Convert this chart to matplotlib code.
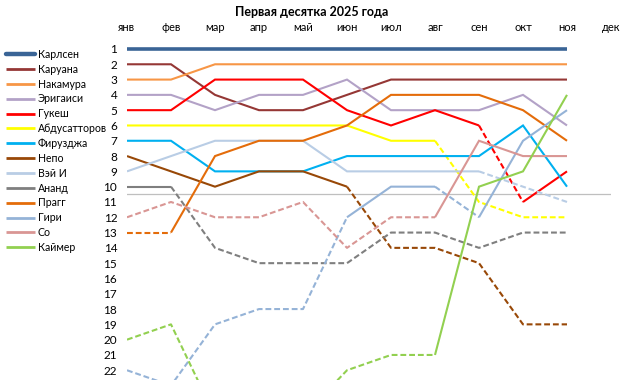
import numpy as np
import matplotlib
matplotlib.use("Agg")
import matplotlib.pyplot as plt
from matplotlib.lines import Line2D

plt.rcParams['font.family'] = ['Lato', 'DejaVu Sans']

# месяцы
months = ['янв', 'фев', 'мар', 'апр', 'май', 'июн', 'июл', 'авг', 'сен', 'окт', 'ноя', 'дек']
ranks = list(range(1, 23))

# места в рейтинге по месяцам (None = нет данных)
players = ['Карлсен', 'Каруана', 'Накамура', 'Эригаиси', 'Гукеш', 'Абдусатторов',
           'Фирузджа', 'Непо', 'Вэй И', 'Ананд', 'Прагг', 'Гири', 'Со', 'Каймер']
carlsen = [1, 1, 1, 1, 1, 1, 1, 1, 1, 1, 1]
caruana = [2, 2, 4, 5, 5, 4, 3, 3, 3, 3, 3]
nakamura = [3, 3, 2, 2, 2, 2, 2, 2, 2, 2, 2]
erigaisi = [4, 4, 5, 4, 4, 3, 5, 5, 5, 4, 6]
gukesh = [5, 5, 3, 3, 3, 5, 6, 5, 6, 11, 9]
abdusattorov = [6, 6, 6, 6, 6, 6, 7, 7, 11, 12, 12]
firouzja = [7, 7, 9, 9, 9, 8, 8, 8, 8, 6, 10]
nepo = [8, 9, 10, 9, 9, 10, 14, 14, 15, 19, 19]
wei_yi = [9, 8, 7, 7, 7, 9, 9, 9, 9, None, 11]
anand = [10, 10, 14, 15, 15, 15, 13, 13, 14, 13, 13]
pragg = [13, 13, 8, 7, 7, 6, 4, 4, 4, 5, 7]
giri = [22, 23, 19, 18, 18, 12, 10, 10, 12, 7, 5]
so = [12, 11, 12, 12, 11, 14, 12, 12, 7, 8, 8]
keymer = [20, 19, 25, 25, 25, 22, 21, 21, 10, 9, 4]

series = [carlsen, caruana, nakamura, erigaisi, gukesh, abdusattorov,
          firouzja, nepo, wei_yi, anand, pragg, giri, so, keymer]
colors = ['#3A6496', '#953735', '#F79646', '#B3A2C7', '#FF0000', '#FFFF00',
          '#00B0F0', '#984807', '#B9CDE5', '#7F7F7F', '#E46C0A', '#95B3D7',
          '#D99694', '#92D050']

DASH = (0, (2.8, 1.4))


def draw_player(ax, vals, color, lw):
    # стиль отрезка берётся по конечной точке: в десятке - сплошная, иначе пунктир
    pts = [(i, v) for i, v in enumerate(vals) if v is not None]
    runs = []
    for (x0, y0), (x1, y1) in zip(pts[:-1], pts[1:]):
        dashed = y1 > 10
        if runs and runs[-1][0] == dashed:
            runs[-1][1].append((x1, y1))
        else:
            runs.append([dashed, [(x0, y0), (x1, y1)]])
    for dashed, seg in runs:
        xs, ys = zip(*seg)
        ax.plot(xs, ys, color=color, lw=lw, solid_capstyle='butt',
                linestyle=DASH if dashed else '-', dash_capstyle='butt',
                solid_joinstyle='miter')


fig = plt.figure(figsize=(6.25, 3.92), dpi=100)
ax = fig.add_axes([127 / 625, 1 - 380.2 / 392, 484 / 625, (380.2 - 39.8) / 392])

ax.plot([0, 11], [10.5, 10.5], color='#BFBFBF', lw=0.9, zorder=0)

for vals, c, name in zip(series, colors, players):
    draw_player(ax, vals, c, 2.6 if name == 'Карлсен' else 1.5)

ax.set_xlim(0, 11)
ax.set_ylim(22.65, 0.4)
ax.set_xticks(range(len(months)))
ax.set_xticklabels(months, fontsize=8)
ax.xaxis.tick_top()
ax.tick_params(axis='x', length=0, pad=5)
ax.set_yticks(ranks)
ax.set_yticklabels([str(r) for r in ranks], fontsize=8.5)
ax.tick_params(axis='y', length=0, pad=7)
for s in ax.spines.values():
    s.set_visible(False)
ax.patch.set_visible(False)

handles = [Line2D([], [], color=c, lw=(3.2 if n == 'Карлсен' else 2.0),
                  solid_capstyle='round' if n == 'Карлсен' else 'butt')
           for c, n in zip(colors, players)]
leg = fig.legend(handles, players, loc='upper left', bbox_to_anchor=(0.0, 1 - 42.5 / 392),
                 frameon=False, fontsize=7.6, handlelength=2.7, handletextpad=0.3,
                 labelspacing=0.365, borderaxespad=0, borderpad=0.6)

fig.text(0.4985, 0.985, 'Первая десятка 2025 года', ha='center', va='top',
         fontsize=9, fontweight='bold')

fig.savefig('out.png', dpi=100)
